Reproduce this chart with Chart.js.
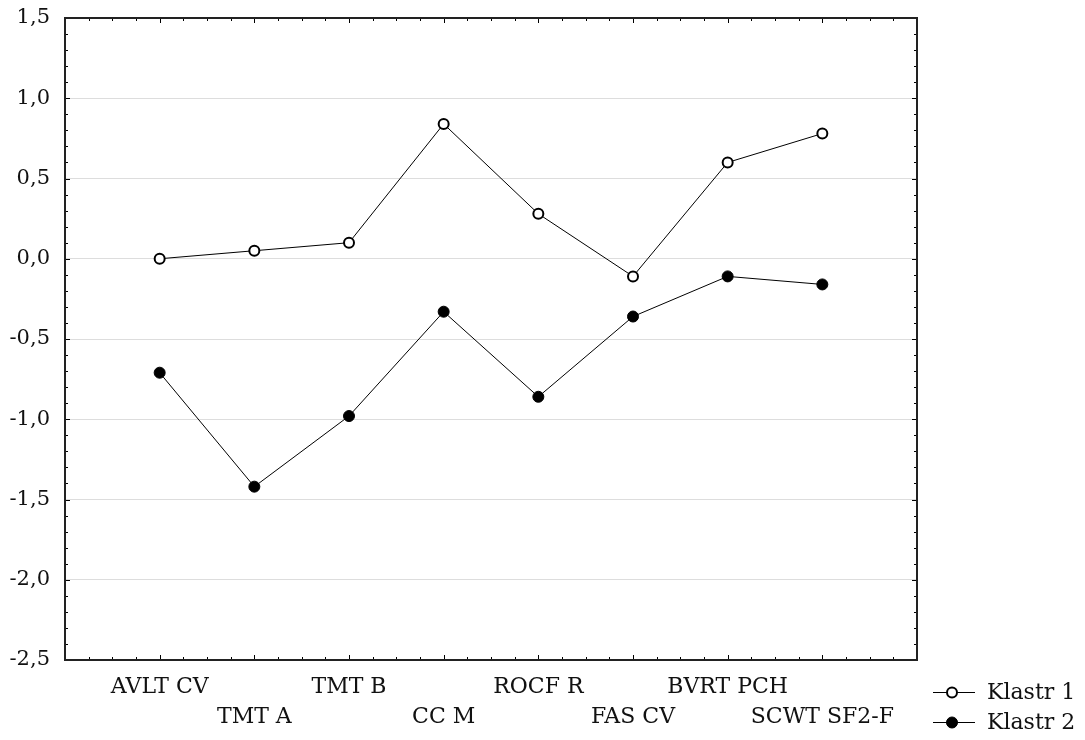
<!DOCTYPE html>
<html><head><meta charset="utf-8">
<script src="https://cdn.jsdelivr.net/npm/chart.js@4.4.1/dist/chart.umd.min.js"></script>
<style>html,body{margin:0;padding:0;background:#fff}#wrap{width:1085px;height:740px}</style>
</head><body><div id="wrap"><canvas id="c" width="1085" height="740"></canvas></div>
<script>
const categories = ["AVLT CV","TMT A","TMT B","CC M","ROCF R","FAS CV","BVRT PCH","SCWT SF2-F"];
const klastr1 = [0.00, 0.05, 0.10, 0.84, 0.28, -0.11, 0.60, 0.78];
const klastr2 = [-0.71, -1.42, -0.98, -0.33, -0.86, -0.36, -0.11, -0.16];
const seriesNames = ["Klastr 1","Klastr 2"];
const yTicks = [-2.5,-2.0,-1.5,-1.0,-0.5,0.0,0.5,1.0,1.5];

const FONT = "'DejaVu Serif', serif";
const toPts = arr => arr.map((v,i)=>({x:i+1,y:v}));

const framePlugin = {
  id:'frame',
  afterDraw(chart){
    const {ctx, chartArea:a, scales:{x,y}} = chart;
    ctx.save();
    ctx.strokeStyle='#000'; ctx.lineWidth=1;
    ctx.beginPath();
    for(let k=-25;k<=15;k++){
      const py=Math.round(y.getPixelForValue(k/10))+0.5;
      const len = (k%5===0)?5:3;
      ctx.moveTo(a.left,py); ctx.lineTo(a.left+len,py);
      ctx.moveTo(a.right,py); ctx.lineTo(a.right-len,py);
    }
    for(let k=0;k<=36;k++){
      const px=Math.round(x.getPixelForValue(k/4))+0.5;
      const len = (k%4===0)?5:3;
      ctx.moveTo(px,a.top); ctx.lineTo(px,a.top+len);
      ctx.moveTo(px,a.bottom); ctx.lineTo(px,a.bottom-len);
    }
    ctx.stroke();
    ctx.lineWidth=2;
    ctx.strokeStyle='#222';
    ctx.strokeRect(Math.round(a.left),Math.round(a.top),Math.round(a.right-a.left),Math.round(a.bottom-a.top));
    const ds = chart.data.datasets;
    const ly=[692,722];
    ctx.font = "22px "+FONT; ctx.textBaseline='middle'; ctx.textAlign='left';
    ds.forEach((d,i)=>{
      ctx.lineWidth=1; ctx.strokeStyle='#000';
      ctx.beginPath(); ctx.moveTo(933,ly[i]+0.5); ctx.lineTo(975,ly[i]+0.5); ctx.stroke();
      ctx.beginPath(); ctx.arc(952,ly[i]+0.5,d.pointRadius,0,Math.PI*2);
      ctx.fillStyle=d.pointBackgroundColor; ctx.fill();
      ctx.lineWidth=d.pointBorderWidth; ctx.strokeStyle='#000'; ctx.stroke();
      ctx.fillStyle='#111';
      ctx.fillText(d.label,987,ly[i]+1);
    });
    ctx.restore();
  }
};

new Chart(document.getElementById('c'),{
  type:'line',
  data:{datasets:[
    {label:seriesNames[0],data:toPts(klastr1),borderColor:'#000',borderWidth:1,pointRadius:5,pointBorderWidth:2,pointBackgroundColor:'#fff',pointBorderColor:'#000'},
    {label:seriesNames[1],data:toPts(klastr2),borderColor:'#000',borderWidth:1,pointRadius:5.5,pointBorderWidth:1,pointBackgroundColor:'#000',pointBorderColor:'#000'}
  ]},
  options:{
    responsive:false,animation:false,
    layout:{padding:{top:18,right:168,left:0,bottom:0}},
    plugins:{legend:{display:false},tooltip:{enabled:false}},
    scales:{
      x:{type:'linear',min:0,max:9,
        afterBuildTicks(s){s.ticks=categories.map((c,i)=>({value:i+1}));},
        afterFit(s){s.height=80; s.paddingLeft=0; s.paddingRight=0;},
        grid:{display:false,drawTicks:false},border:{display:false},
        ticks:{padding:12,maxRotation:0,autoSkip:false,color:'#111',font:{family:FONT,size:22,lineHeight:1.36},
          callback(v){const i=Math.round(v)-1; if(i<0||i>=categories.length)return ''; return (i%2===0)?[categories[i],'']:['',categories[i]];}}
      },
      y:{type:'linear',min:-2.5,max:1.5,
        afterBuildTicks(s){s.ticks=yTicks.map(v=>({value:v}));},
        afterFit(s){s.width=65; s.paddingTop=0; s.paddingBottom=0;},
        grid:{color:'#dddddd',lineWidth:1,drawTicks:false},border:{display:false},
        ticks:{padding:15,color:'#111',font:{family:FONT,size:21},callback(v){return v.toFixed(1).replace('.',',');}}
      }
    }
  },
  plugins:[framePlugin]
});
</script></body></html>
